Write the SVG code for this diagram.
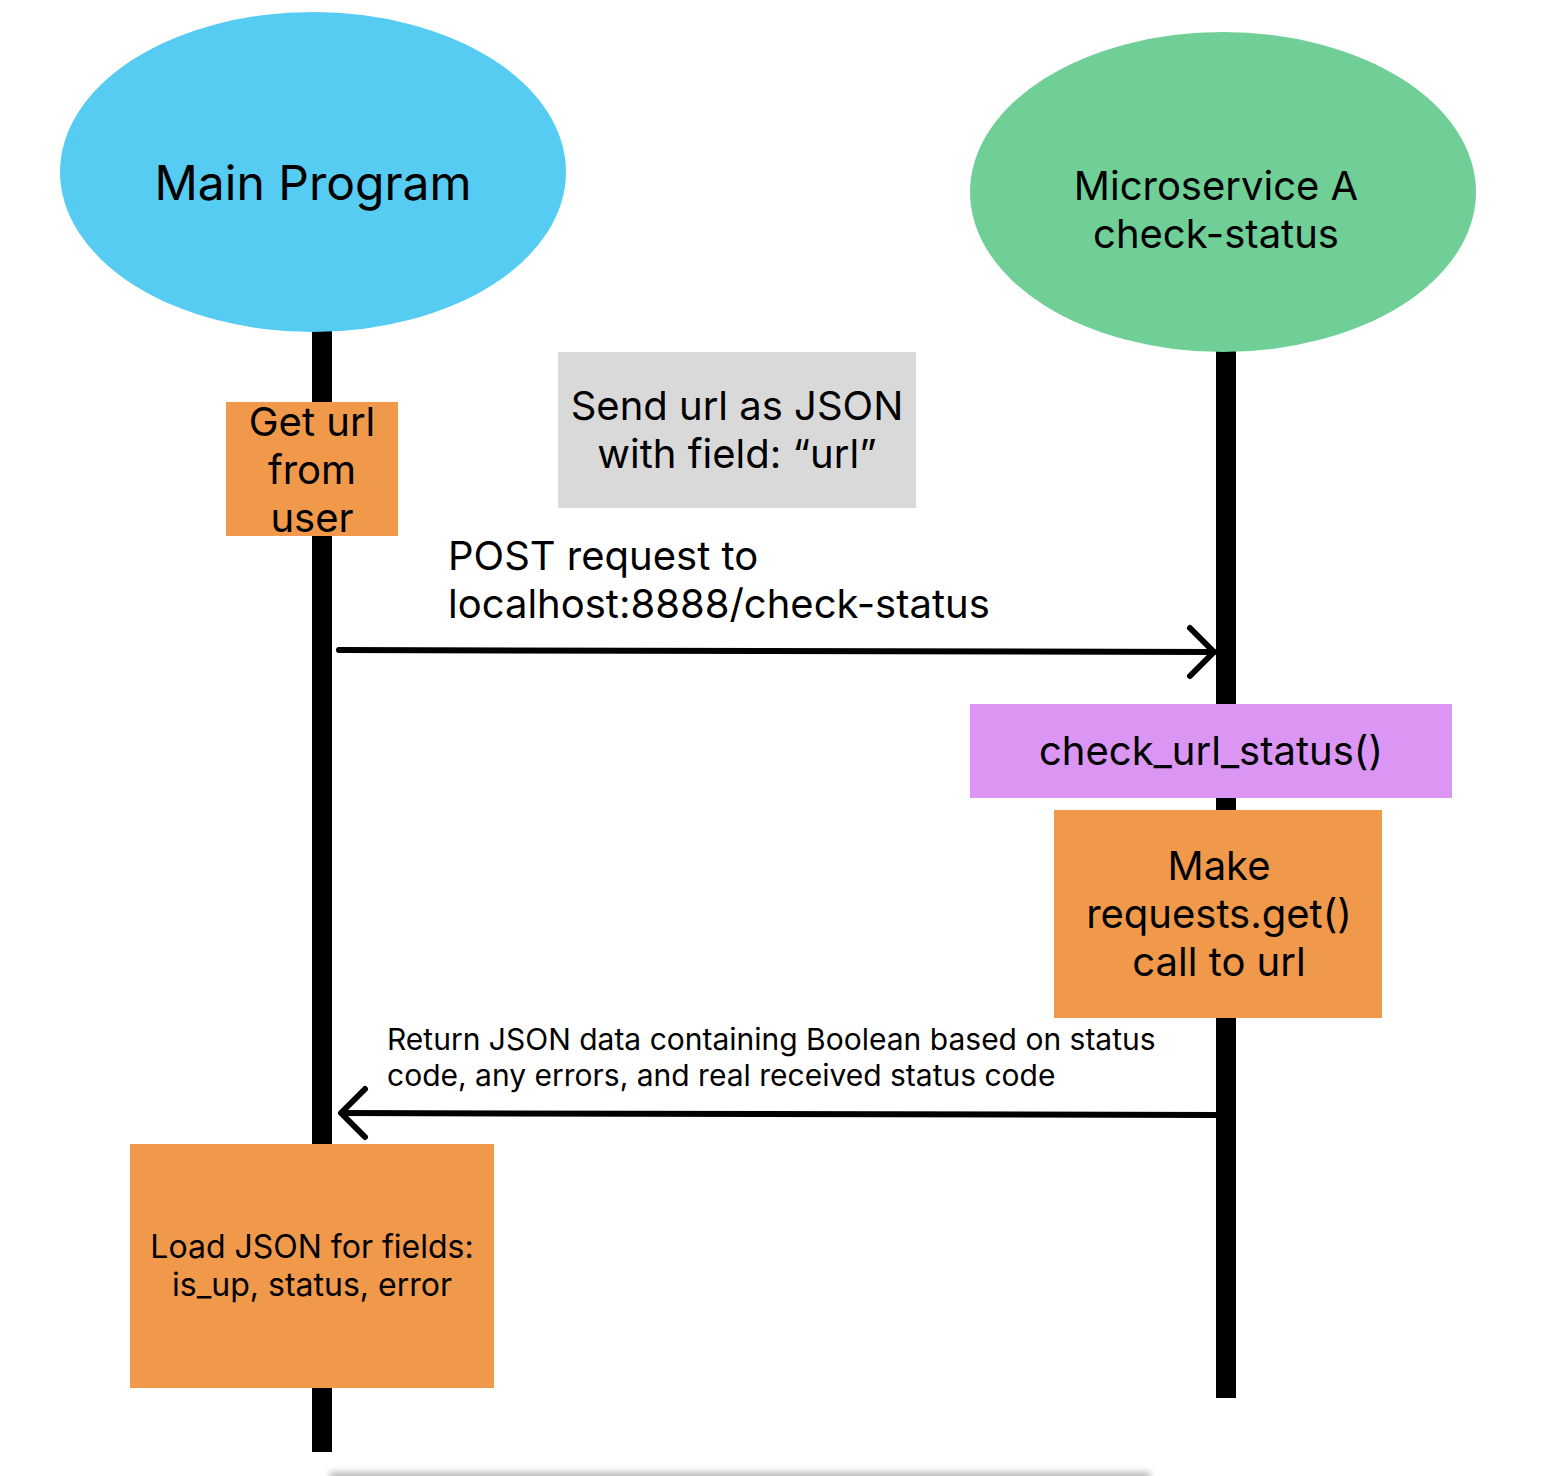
<svg xmlns="http://www.w3.org/2000/svg" width="1548" height="1476" viewBox="0 0 1548 1476">
<style>
text{font-family:Inter,"Noto Sans","Liberation Sans",sans-serif;fill:#000}
.life{fill:#000}
.orange{fill:#F0994B}
.conn{stroke:#000;stroke-width:6;fill:none;stroke-linecap:round;stroke-linejoin:round}
</style>
<defs>
<filter id="sh" x="-5%" y="-200%" width="110%" height="500%"><feGaussianBlur stdDeviation="3"/></filter>
</defs>
<rect width="1548" height="1476" fill="#fff"/>
<rect x="330" y="1472" width="820" height="10" fill="#bbb" filter="url(#sh)"/>
<g id="lifelines">
<rect class="life" x="312" y="330" width="20" height="1122"/>
<rect class="life" x="1216" y="350" width="20" height="1048"/>
</g>
<g id="main-program">
<ellipse cx="313" cy="172" rx="253" ry="160" fill="#56CCF2"/>
<text x="313" y="200" font-size="48" text-anchor="middle">Main Program</text>
</g>
<g id="microservice-a">
<ellipse cx="1223" cy="192" rx="253" ry="160" fill="#6FCF97"/>
<text x="1216" y="200" font-size="40" text-anchor="middle">Microservice A</text>
<text x="1216" y="248" font-size="40" text-anchor="middle">check-status</text>
</g>
<g id="get-url">
<rect class="orange" x="226" y="402" width="172" height="134"/>
<text x="312" y="436" font-size="40" text-anchor="middle">Get url</text>
<text x="312" y="484" font-size="40" text-anchor="middle">from</text>
<text x="312" y="532" font-size="40" text-anchor="middle">user</text>
</g>
<g id="send-url-note">
<rect x="558" y="352" width="358" height="156" fill="#D9D9D9"/>
<text x="737" y="420" font-size="40" text-anchor="middle">Send url as JSON</text>
<text x="737" y="468" font-size="40" text-anchor="middle">with field: “url”</text>
</g>
<g id="check-url-status">
<rect x="970" y="704" width="482" height="94" fill="#DB96F3"/>
<text x="1211" y="765" font-size="40" text-anchor="middle">check_url_status()</text>
</g>
<g id="make-request">
<rect class="orange" x="1054" y="810" width="328" height="208"/>
<text x="1219" y="880" font-size="40" text-anchor="middle">Make</text>
<text x="1219" y="928" font-size="40" text-anchor="middle">requests.get()</text>
<text x="1219" y="976" font-size="40" text-anchor="middle">call to url</text>
</g>
<g id="load-json">
<rect class="orange" x="130" y="1144" width="364" height="244"/>
<text x="312" y="1258" font-size="32" text-anchor="middle">Load JSON for fields:</text>
<text x="312" y="1296" font-size="32" text-anchor="middle">is_up, status, error</text>
</g>
<g id="connectors">
<path class="conn" d="M339 650 L1214 652" stroke-linecap="butt"/>
<path class="conn" d="M1190 628 L1214 652 L1190 676"/>
<text x="448" y="570" font-size="40">POST request to</text>
<text x="448" y="618" font-size="40">localhost:8888/check-status</text>
<path class="conn" d="M1216 1115 L342 1113" stroke-linecap="butt"/>
<path class="conn" d="M365 1089 L341 1113 L365 1137"/>
<text x="387" y="1050" font-size="30">Return JSON data containing Boolean based on status</text>
<text x="387" y="1086" font-size="30">code, any errors, and real received status code</text>
</g>
</svg>
